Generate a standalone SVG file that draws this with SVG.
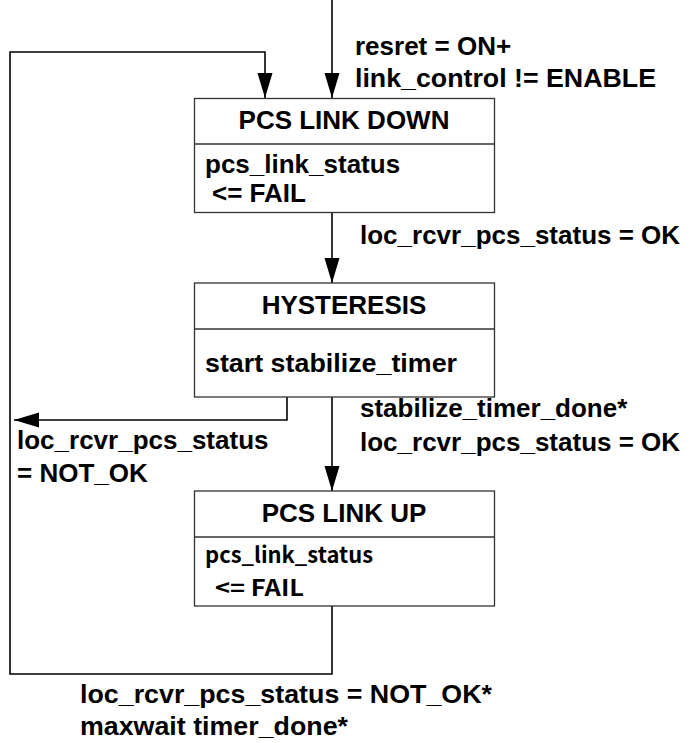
<svg xmlns="http://www.w3.org/2000/svg" width="696" height="743" viewBox="0 0 696 743">
<defs>
<style>
.box{fill:#fff;stroke:#333;stroke-width:1.3}
.div{stroke:#333;stroke-width:1.3}
.t{font-family:"Liberation Sans",Arial,sans-serif;font-weight:bold;font-size:26px;fill:#000}
.c{text-anchor:middle}
.jp{font-family:"Noto Sans CJK JP","Noto Sans CJK SC",sans-serif;font-weight:bold;font-size:22px;fill:#000}
.edge{fill:none;stroke:#000;stroke-width:1.6}
</style>
<marker id="ah" markerUnits="userSpaceOnUse" markerWidth="26" markerHeight="16" refX="25" refY="7.5" orient="auto">
<path d="M0,0 L25,7.5 L0,15 z" fill="#000"/>
</marker>
</defs>
<rect width="696" height="743" fill="#fff"/>
<g id="connectors">
<path class="edge" d="M332,0 V98" marker-end="url(#ah)"/>
<path class="edge" d="M332,606 V674 H10 V52 H265 V98" marker-end="url(#ah)"/>
<path class="edge" d="M332,213 V283" marker-end="url(#ah)"/>
<path class="edge" d="M287,397 V420 H14" marker-end="url(#ah)"/>
<path class="edge" d="M332,397 V491" marker-end="url(#ah)"/>
<text class="t" x="355" y="55">resret = ON+</text>
<text class="t" x="355" y="87" textLength="301" lengthAdjust="spacingAndGlyphs">link_control != ENABLE</text>
<text class="t" x="360" y="244">loc_rcvr_pcs_status = OK</text>
<text class="t" x="360" y="417">stabilize_timer_done*</text>
<text class="t" x="360" y="451">loc_rcvr_pcs_status = OK</text>
<text class="t" x="17" y="449">loc_rcvr_pcs_status</text>
<text class="t" x="17" y="482">= NOT_OK</text>
<text class="t" x="80" y="703" textLength="412" lengthAdjust="spacingAndGlyphs">loc_rcvr_pcs_status = NOT_OK*</text>
<text class="t" x="80" y="735" textLength="268" lengthAdjust="spacingAndGlyphs">maxwait timer_done*</text>
</g>
<g id="pcs_link_down">
<rect class="box" x="194.5" y="98.5" width="300" height="114"/>
<line class="div" x1="194.5" y1="144" x2="494.5" y2="144"/>
<text class="t c" x="344" y="129">PCS LINK DOWN</text>
<text class="t" x="205" y="173">pcs_link_status</text>
<text class="t" x="212" y="202">&lt;= FAIL</text>
</g>
<g id="hysteresis">
<rect class="box" x="194.5" y="283" width="300" height="114"/>
<line class="div" x1="194.5" y1="329" x2="494.5" y2="329"/>
<text class="t c" x="344" y="314">HYSTERESIS</text>
<text class="t" x="205" y="372" textLength="252" lengthAdjust="spacingAndGlyphs">start stabilize_timer</text>
</g>
<g id="pcs_link_up">
<rect class="box" x="194.5" y="491" width="300" height="115"/>
<line class="div" x1="194.5" y1="537" x2="494.5" y2="537"/>
<text class="t c" x="344" y="522">PCS LINK UP</text>
<text class="jp" x="205" y="563" textLength="168" lengthAdjust="spacingAndGlyphs">pcs_link_status</text>
<text class="jp" x="215" y="596" textLength="89" lengthAdjust="spacingAndGlyphs">&lt;= FAIL</text>
</g>
</svg>
